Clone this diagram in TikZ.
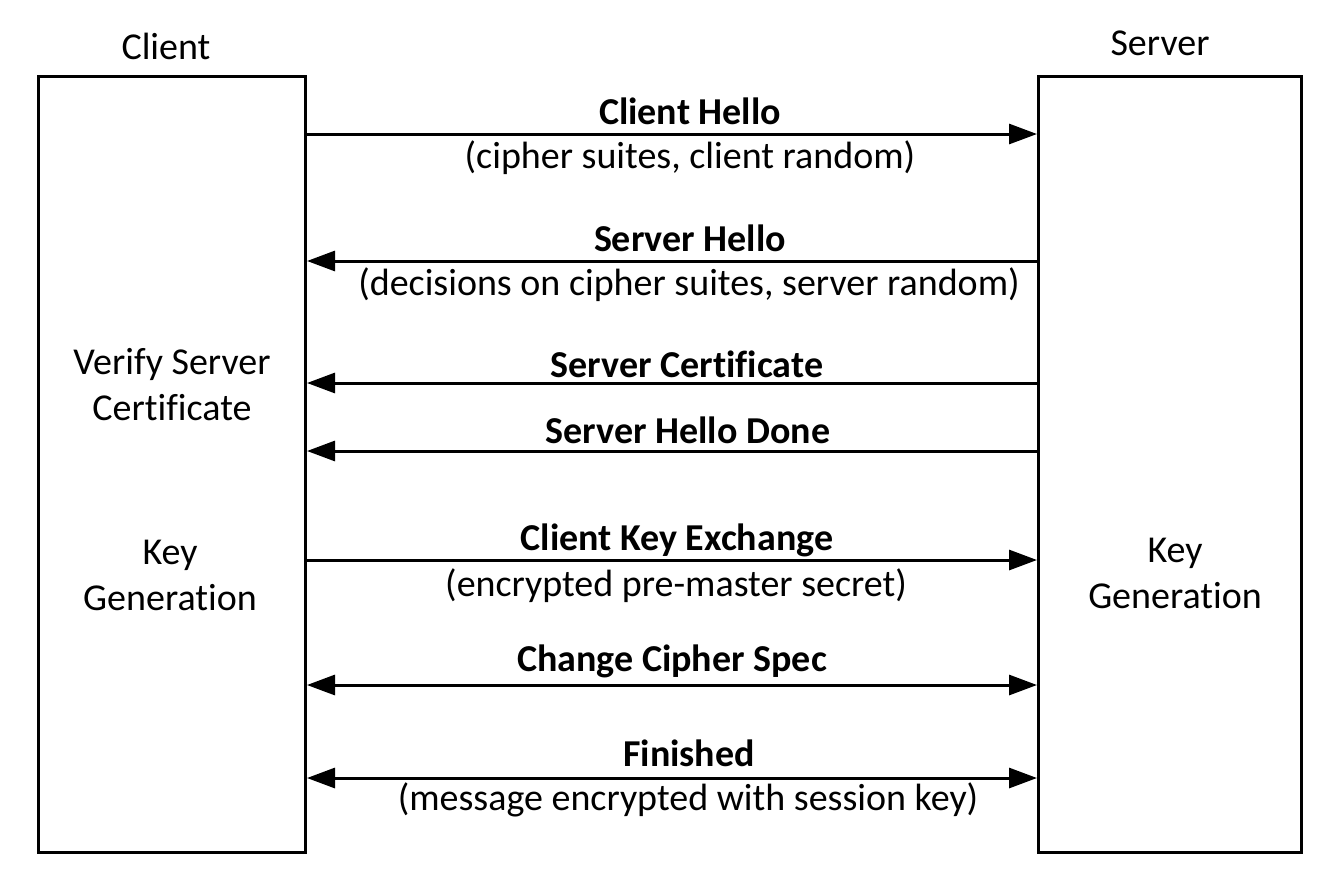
\documentclass[tikz,border=0pt]{standalone}
\usepackage{fontspec}
\setmainfont{Carlito}[Ligatures=NoCommon]
\usetikzlibrary{arrows.meta}
\begin{document}
\begin{tikzpicture}[x=1pt,y=-1pt,
  box/.style={draw,line width=3pt,minimum width=267pt,minimum height=776pt,inner sep=0pt,anchor=north west},
  msg/.style={line width=3pt,-{Triangle[length=28pt,width=20pt]}},
  dmsg/.style={line width=3pt,{Triangle[length=28pt,width=20pt]}-{Triangle[length=28pt,width=20pt]}},
  ttl/.style={font=\fontsize{38}{46}\selectfont\bfseries,inner sep=0pt},
  sub/.style={font=\fontsize{38}{46}\selectfont,inner sep=0pt},
  side/.style={font=\fontsize{38}{46}\selectfont,align=center,inner sep=0pt},
  ]
\useasboundingbox (0,0) rectangle (1330,887);
\node[box] (client) at (37,75) {};
\node[box,minimum width=263pt] (server) at (1037,75) {};
\node[sub] (clab) at (166,46) {Client};
\node[sub] (slab) at (1160,43) {Server};
\node[side] (verify) at (172,385) {Verify Server\\Certificate};
\node[side] (kgl) at (170,575) {Key\\Generation};
\node[side] (kgr) at (1175,573) {Key\\Generation};

\coordinate (m1) at (690,134);
\coordinate (m2) at (690,261);
\coordinate (m3) at (690,383);
\coordinate (m4) at (690,451);
\coordinate (m5) at (690,560);
\coordinate (m6) at (690,685);
\coordinate (m7) at (690,778);

\draw[msg] (client.east |- m1) -- (server.west |- m1);
\draw[msg] (server.west |- m2) -- (client.east |- m2);
\draw[msg] (server.west |- m3) -- (client.east |- m3);
\draw[msg] (server.west |- m4) -- (client.east |- m4);
\draw[msg] (client.east |- m5) -- (server.west |- m5);
\draw[dmsg] (client.east |- m6) -- (server.west |- m6);
\draw[dmsg] (client.east |- m7) -- (server.west |- m7);

\node[ttl] (t1) at (690,111) {Client Hello};
\node[sub] (s1) at (690,158) {(cipher suites, client random)};
\node[ttl] (t2) at (690,238) {Server Hello};
\node[sub] (s2) at (689,285) {(decisions on cipher suites, server random)};
\node[ttl] (t3) at (687,364) {Server Certificate};
\node[ttl] (t4) at (688,430) {Server Hello Done};
\node[ttl] (t5) at (677,540) {Client Key Exchange};
\node[sub] (s5) at (676,586) {(encrypted pre-master secret)};
\node[ttl] (t6) at (672,661) {Change Cipher Spec};
\node[ttl] (t7) at (689,753) {Finished};
\node[sub] (s7) at (688,800) {(message encrypted with session key)};
\end{tikzpicture}
\end{document}
